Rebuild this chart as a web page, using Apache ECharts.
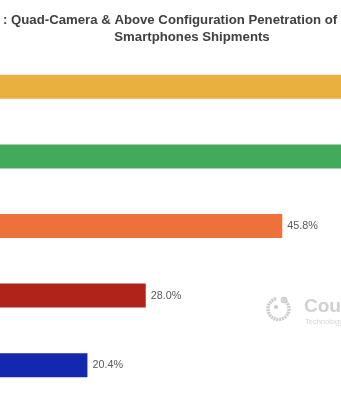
<!DOCTYPE html>
<html>
<head>
<meta charset="utf-8">
<script src="https://cdn.jsdelivr.net/npm/echarts@6/dist/echarts.min.js"></script>
<style>html,body{margin:0;padding:0;background:#fff;}#c{width:341px;height:400px;}</style>
</head>
<body>
<div id="c"></div>
<script>
const categories = ['Cat 1', 'Cat 2', 'Cat 3', 'Cat 4', 'Cat 5'];
const values = [72.0, 64.0, 45.8, 28.0, 20.4];
const colors = ['#E9B03F', '#43AA5B', '#EE7139', '#B0231B', '#1327AF'];
const titleLine1 = ': Quad-Camera & Above Configuration Penetration of';
const titleLine2 = 'Smartphones Shipments';

const chart = echarts.init(document.getElementById('c'), null, {renderer: 'canvas'});
chart.setOption({
  backgroundColor: '#ffffff',
  animation: false,
  grid: {left: 0, right: 0, top: 52, height: 348, containLabel: false},
  xAxis: {type: 'value', min: 9, max: 53.46, show: false},
  yAxis: {type: 'category', data: categories, inverse: true, show: false},
  series: [{
    type: 'bar',
    data: values.map((v, i) => ({value: v, itemStyle: {color: colors[i]}})),
    barWidth: 24,
    label: {
      show: true, position: 'right', distance: 5,
      formatter: p => p.value.toFixed(1) + '%',
      fontFamily: 'Liberation Sans, Arial, sans-serif', fontSize: 10.8, color: '#595959'
    }
  }],
  graphic: [
    {type: 'text', left: 3, top: 14, style: {text: titleLine1, font: 'bold 13.2px "Liberation Sans", Arial, sans-serif', fill: '#404040'}},
    {type: 'text', x: 192, y: 31, style: {text: titleLine2, textAlign: 'center', font: 'bold 13.2px "Liberation Sans", Arial, sans-serif', fill: '#404040'}},
    {type: 'arc', shape: {cx: 278.5, cy: 309, r: 10.5, startAngle: -Math.PI * 0.35, endAngle: Math.PI * 1.45}, style: {stroke: '#cccccc', lineWidth: 3.5, fill: null, lineDash: [2, 0.8]}},
    {type: 'circle', shape: {cx: 276, cy: 307, r: 2}, style: {fill: '#cccccc'}},
    {type: 'circle', shape: {cx: 284, cy: 300, r: 2.5}, style: {fill: null, stroke: '#cccccc', lineWidth: 1.5}},
    {type: 'text', x: 304, y: 297, style: {text: 'Counterpoint', font: 'bold 19px "Liberation Sans", Arial, sans-serif', fill: '#d0d0d0'}},
    {type: 'text', x: 305, y: 318, style: {text: 'Technology Market Research', font: '7.5px "Liberation Sans", Arial, sans-serif', fill: '#d6d6d6'}}
  ]
});
</script>
</body>
</html>
